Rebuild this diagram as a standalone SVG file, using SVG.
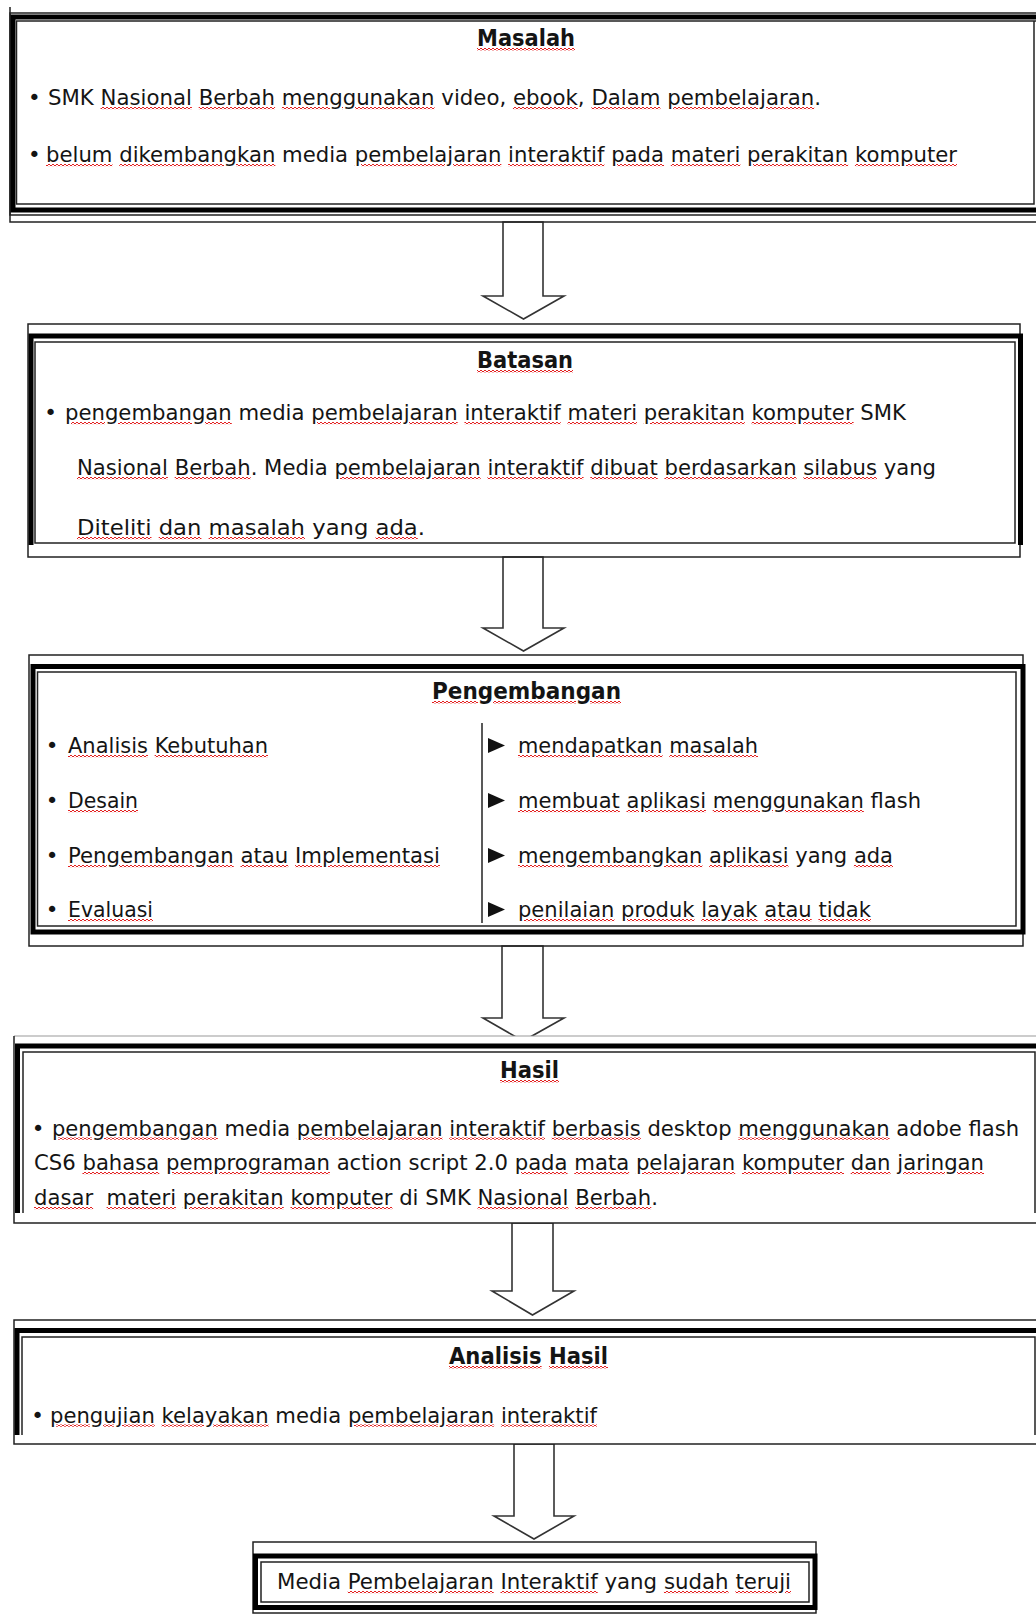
<svg xmlns="http://www.w3.org/2000/svg" width="1036" height="1615" viewBox="0 0 1036 1615">
  <style>
    .bg { fill: #fff; }
    .ln { fill: none; stroke: #222; stroke-width: 1.5; }
    .lt { fill: none; stroke: #999; stroke-width: 1; }
    .tk { fill: none; stroke: #000; stroke-width: 5; }
    .arr { fill: #fff; stroke: #333; stroke-width: 1.6; stroke-linejoin: miter; }
    .t { font-family: "DejaVu Sans", Verdana, sans-serif; font-size: 21.5px; fill: #141414; }
    .h { font-weight: bold; font-size: 23.5px; }
    .pre { white-space: pre; }
    /* spell-check style underline: zigzag-patterned decoration, dark glyphs */
    .s { fill: url(#squiggle); color: #e32020; text-decoration-line: underline; text-decoration-color: #e32020; text-decoration-thickness: 2px; text-underline-offset: 3px; }
    .k { fill: #141414; }
    .tri { fill: #111; }
  </style>
  <defs>
    <pattern id="squiggle" x="0" y="0" width="4" height="2" patternUnits="userSpaceOnUse">
      <rect x="0" y="0" width="2" height="1" fill="#e32020"/>
      <rect x="2" y="1" width="2" height="1" fill="#e32020"/>
    </pattern>
  </defs>

  <rect width="1036" height="1615" fill="#fff"/>

  <!-- block arrows between the stages -->
  <g id="connectors">
    <polygon class="arr" points="503,222 543,222 543,296 564,296 523.5,319 483,296 503,296"/>
    <polygon class="arr" points="503,557 543,557 543,628 564,628 523.5,651 483,628 503,628"/>
    <polygon class="arr" points="502,946 543,946 543,1018 564,1018 523,1041 483,1018 502,1018"/>
    <polygon class="arr" points="512,1223 553,1223 553,1291 574,1291 532.5,1315 492,1291 512,1291"/>
    <polygon class="arr" points="514,1444 554,1444 554,1516 574,1516 534,1539 494,1516 514,1516"/>
  </g>

  <!-- Masalah -->
  <g id="masalah">
    <path class="ln" d="M10,7 V222 H1036"/>
    <path class="ln" d="M1040,13 H10 V215 H1040"/>
    <path class="tk" d="M1040,17 H13 V210 H1040"/>
    <path class="ln" d="M1040,21 H1034 V204 H16.5 V21 H1034"/>
    <text class="t h" x="477" y="46" textLength="98" lengthAdjust="spacingAndGlyphs"><tspan class="s"><tspan class="k">Masalah</tspan></tspan></text>
    <text class="t" x="28" y="105">•</text>
    <text class="t" x="48" y="105" textLength="773" lengthAdjust="spacingAndGlyphs">SMK <tspan class="s"><tspan class="k">Nasional</tspan></tspan> <tspan class="s"><tspan class="k">Berbah</tspan></tspan> <tspan class="s"><tspan class="k">menggunakan</tspan></tspan> video, <tspan class="s"><tspan class="k">ebook</tspan></tspan>, <tspan class="s"><tspan class="k">Dalam</tspan></tspan> <tspan class="s"><tspan class="k">pembelajaran</tspan></tspan>.</text>
    <text class="t" x="28" y="162">•</text>
    <text class="t" x="46" y="162" textLength="911" lengthAdjust="spacingAndGlyphs"><tspan class="s"><tspan class="k">belum</tspan></tspan> <tspan class="s"><tspan class="k">dikembangkan</tspan></tspan> media <tspan class="s"><tspan class="k">pembelajaran</tspan></tspan> <tspan class="s"><tspan class="k">interaktif</tspan></tspan> <tspan class="s"><tspan class="k">pada</tspan></tspan> <tspan class="s"><tspan class="k">materi</tspan></tspan> <tspan class="s"><tspan class="k">perakitan</tspan></tspan> <tspan class="s"><tspan class="k">komputer</tspan></tspan></text>
  </g>

  <!-- Batasan -->
  <g id="batasan">
    <rect class="ln bg" x="28" y="324" width="992" height="233"/>
    <path class="tk" d="M31,545 V336 H1020.5 V545"/>
    <rect class="ln" x="35" y="342" width="980" height="201"/>
    <text class="t h" x="477" y="368" textLength="96" lengthAdjust="spacingAndGlyphs"><tspan class="s"><tspan class="k">Batasan</tspan></tspan></text>
    <text class="t" x="44.2" y="420">•</text>
    <text class="t" x="65" y="420" textLength="841" lengthAdjust="spacingAndGlyphs"><tspan class="s"><tspan class="k">pengembangan</tspan></tspan> media <tspan class="s"><tspan class="k">pembelajaran</tspan></tspan> <tspan class="s"><tspan class="k">interaktif</tspan></tspan> <tspan class="s"><tspan class="k">materi</tspan></tspan> <tspan class="s"><tspan class="k">perakitan</tspan></tspan> <tspan class="s"><tspan class="k">komputer</tspan></tspan> SMK</text>
    <text class="t" x="77" y="475" textLength="859" lengthAdjust="spacingAndGlyphs"><tspan class="s"><tspan class="k">Nasional</tspan></tspan> <tspan class="s"><tspan class="k">Berbah</tspan></tspan>. Media <tspan class="s"><tspan class="k">pembelajaran</tspan></tspan> <tspan class="s"><tspan class="k">interaktif</tspan></tspan> <tspan class="s"><tspan class="k">dibuat</tspan></tspan> <tspan class="s"><tspan class="k">berdasarkan</tspan></tspan> <tspan class="s"><tspan class="k">silabus</tspan></tspan> yang</text>
    <text class="t" x="77" y="535" textLength="348" lengthAdjust="spacingAndGlyphs"><tspan class="s"><tspan class="k">Diteliti</tspan></tspan> <tspan class="s"><tspan class="k">dan</tspan></tspan> <tspan class="s"><tspan class="k">masalah</tspan></tspan> yang <tspan class="s"><tspan class="k">ada</tspan></tspan>.</text>
  </g>

  <!-- Pengembangan -->
  <g id="pengembangan">
    <rect class="ln bg" x="29" y="655" width="994" height="291"/>
    <rect class="tk" x="33" y="666.5" width="990" height="265.5"/>
    <rect class="ln" x="37.5" y="672" width="978.5" height="254"/>
    <line class="ln" x1="482" y1="723" x2="482" y2="923"/>
    <text class="t h" x="432" y="699" textLength="189" lengthAdjust="spacingAndGlyphs"><tspan class="s"><tspan class="k">Pengembangan</tspan></tspan></text>

    <text class="t" x="45.7" y="753">•</text>
    <text class="t" x="68" y="753" textLength="200" lengthAdjust="spacingAndGlyphs"><tspan class="s"><tspan class="k">Analisis</tspan></tspan> <tspan class="s"><tspan class="k">Kebutuhan</tspan></tspan></text>
    <text class="t" x="45.7" y="808">•</text>
    <text class="t" x="68" y="808" textLength="70" lengthAdjust="spacingAndGlyphs"><tspan class="s"><tspan class="k">Desain</tspan></tspan></text>
    <text class="t" x="45.7" y="863">•</text>
    <text class="t" x="68" y="863" textLength="372" lengthAdjust="spacingAndGlyphs"><tspan class="s"><tspan class="k">Pengembangan</tspan></tspan> <tspan class="s"><tspan class="k">atau</tspan></tspan> <tspan class="s"><tspan class="k">Implementasi</tspan></tspan></text>
    <text class="t" x="45.7" y="917">•</text>
    <text class="t" x="68" y="917" textLength="85" lengthAdjust="spacingAndGlyphs"><tspan class="s"><tspan class="k">Evaluasi</tspan></tspan></text>

    <polygon class="tri" points="488,738 505,745.5 488,753"/>
    <text class="t" x="518" y="753" textLength="240" lengthAdjust="spacingAndGlyphs"><tspan class="s"><tspan class="k">mendapatkan</tspan></tspan> <tspan class="s"><tspan class="k">masalah</tspan></tspan></text>
    <polygon class="tri" points="488,793 505,800.5 488,808"/>
    <text class="t" x="518" y="808" textLength="403" lengthAdjust="spacingAndGlyphs"><tspan class="s"><tspan class="k">membuat</tspan></tspan> <tspan class="s"><tspan class="k">aplikasi</tspan></tspan> <tspan class="s"><tspan class="k">menggunakan</tspan></tspan> flash</text>
    <polygon class="tri" points="488,848 505,855.5 488,863"/>
    <text class="t" x="518" y="863" textLength="375" lengthAdjust="spacingAndGlyphs"><tspan class="s"><tspan class="k">mengembangkan</tspan></tspan> <tspan class="s"><tspan class="k">aplikasi</tspan></tspan> yang <tspan class="s"><tspan class="k">ada</tspan></tspan></text>
    <polygon class="tri" points="488,902 505,909.5 488,917"/>
    <text class="t" x="518" y="917" textLength="353" lengthAdjust="spacingAndGlyphs"><tspan class="s"><tspan class="k">penilaian</tspan></tspan> <tspan class="s"><tspan class="k">produk</tspan></tspan> <tspan class="s"><tspan class="k">layak</tspan></tspan> <tspan class="s"><tspan class="k">atau</tspan></tspan> <tspan class="s"><tspan class="k">tidak</tspan></tspan></text>
  </g>

  <!-- Hasil -->
  <g id="hasil">
    <rect class="bg" x="14" y="1036" width="1022" height="187"/>
    <path class="lt" d="M14,1036 H1036"/>
    <path class="ln" d="M14,1036 V1223 H1036"/>
    <path class="tk" d="M17.5,1213 V1046 H1040"/>
    <path class="ln" d="M23,1213 V1052 H1035 V1213"/>
    <text class="t h" x="500" y="1078" textLength="59" lengthAdjust="spacingAndGlyphs"><tspan class="s"><tspan class="k">Hasil</tspan></tspan></text>
    <text class="t" x="31.7" y="1135.5">•</text>
    <text class="t" x="52" y="1135.5" textLength="967" lengthAdjust="spacingAndGlyphs"><tspan class="s"><tspan class="k">pengembangan</tspan></tspan> media <tspan class="s"><tspan class="k">pembelajaran</tspan></tspan> <tspan class="s"><tspan class="k">interaktif</tspan></tspan> <tspan class="s"><tspan class="k">berbasis</tspan></tspan> desktop <tspan class="s"><tspan class="k">menggunakan</tspan></tspan> adobe flash</text>
    <text class="t" x="34" y="1170" textLength="950" lengthAdjust="spacingAndGlyphs">CS6 <tspan class="s"><tspan class="k">bahasa</tspan></tspan> <tspan class="s"><tspan class="k">pemprograman</tspan></tspan> action script 2.0 <tspan class="s"><tspan class="k">pada</tspan></tspan> <tspan class="s"><tspan class="k">mata</tspan></tspan> <tspan class="s"><tspan class="k">pelajaran</tspan></tspan> <tspan class="s"><tspan class="k">komputer</tspan></tspan> <tspan class="s"><tspan class="k">dan</tspan></tspan> <tspan class="s"><tspan class="k">jaringan</tspan></tspan></text>
    <text class="t pre" x="34" y="1205" textLength="624" lengthAdjust="spacingAndGlyphs"><tspan class="s"><tspan class="k">dasar</tspan></tspan>  <tspan class="s"><tspan class="k">materi</tspan></tspan> <tspan class="s"><tspan class="k">perakitan</tspan></tspan> <tspan class="s"><tspan class="k">komputer</tspan></tspan> di SMK <tspan class="s"><tspan class="k">Nasional</tspan></tspan> <tspan class="s"><tspan class="k">Berbah</tspan></tspan>.</text>
  </g>

  <!-- Analisis Hasil -->
  <g id="analisis-hasil">
    <rect class="bg" x="14" y="1320" width="1022" height="124"/>
    <path class="ln" d="M1036,1320 H14 V1444 H1036"/>
    <path class="tk" d="M17,1435 V1330.5 H1040"/>
    <path class="ln" d="M22,1435 V1337 H1035 V1435"/>
    <text class="t h" x="449" y="1364" textLength="159" lengthAdjust="spacingAndGlyphs"><tspan class="s"><tspan class="k">Analisis</tspan></tspan> <tspan class="s"><tspan class="k">Hasil</tspan></tspan></text>
    <text class="t" x="31.2" y="1422.5">•</text>
    <text class="t" x="50" y="1422.5" textLength="547" lengthAdjust="spacingAndGlyphs"><tspan class="s"><tspan class="k">pengujian</tspan></tspan> <tspan class="s"><tspan class="k">kelayakan</tspan></tspan> media <tspan class="s"><tspan class="k">pembelajaran</tspan></tspan> <tspan class="s"><tspan class="k">interaktif</tspan></tspan></text>
  </g>

  <!-- Media teruji -->
  <g id="media-teruji">
    <rect class="ln bg" x="253" y="1542" width="563" height="71"/>
    <rect class="tk" x="255.5" y="1556" width="559.5" height="51.5"/>
    <rect class="ln" x="261" y="1562" width="548" height="40"/>
    <text class="t" x="277" y="1589" textLength="514" lengthAdjust="spacingAndGlyphs">Media <tspan class="s"><tspan class="k">Pembelajaran</tspan></tspan> <tspan class="s"><tspan class="k">Interaktif</tspan></tspan> yang <tspan class="s"><tspan class="k">sudah</tspan></tspan> <tspan class="s"><tspan class="k">teruji</tspan></tspan></text>
  </g>
</svg>
